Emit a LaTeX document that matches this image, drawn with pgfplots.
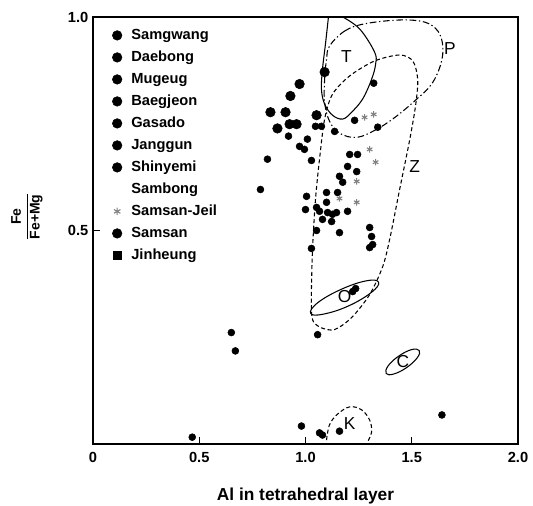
\documentclass[border=0pt]{standalone}
\usepackage{fontspec}
\setmainfont{Liberation Sans}
\usepackage{pgfplots}
\pgfplotsset{compat=1.18}

\pgfplotsset{dot/.style={only marks, mark=*, black, mark size=2.6pt}}
\tikzset{field/.style={black, line width=0.8pt}}

\begin{document}
\begin{tikzpicture}
\begin{axis}[
  scale only axis, width=318.75pt, height=320.25pt,
  xmin=0, xmax=2, ymin=0, ymax=1,
  xtick={0,0.5,1,1.5,2}, xticklabels={0,0.5,1.0,1.5,2.0},
  ytick={0.5,1}, yticklabels={0.5,1.0},
  tick align=inside, xtick pos=left, ytick pos=left,
  major tick length=5pt,
  axis line style={line width=1.1pt},
  every tick/.style={black, line width=1pt},
  tick label style={font=\bfseries\fontsize{11}{13}\selectfont},
  xticklabel style={yshift=-3pt},
  xlabel={Al in tetrahedral layer},
  xlabel style={font=\bfseries\fontsize{13}{15}\selectfont,
    at={(axis description cs:0.5,0)}, yshift=-39pt, anchor=center},
  ylabel={\begin{tabular}{@{}c@{}}Fe\\[1pt]\hline\rule{0pt}{9pt}Fe+Mg\end{tabular}},
  ylabel style={font=\bfseries\fontsize{10.5}{12}\selectfont,
    at={(axis description cs:-0.155,0.532)}, anchor=center},
  legend style={at={(axis description cs:0.045,0.977)}, anchor=north west,
    draw=none, fill=none, font=\bfseries\fontsize{11}{13}\selectfont,
    row sep=4pt, column sep=6pt, inner sep=0pt,
    nodes={inner sep=1pt, text height=8pt, text depth=2.5pt}},
  legend cell align=left,
]

% data: Samgwang
\addplot[dot, mark size=3.6pt, forget plot] coordinates {
 (1.090,0.871) (0.972,0.843) (0.929,0.815) (0.835,0.777) (0.906,0.777)
 (1.052,0.770) (0.868,0.739) (0.925,0.749) (0.958,0.749)};
% Daebong
\addplot[dot, forget plot] coordinates {
 (1.047,0.744) (1.075,0.744) (0.920,0.721) (1.009,0.714) (0.972,0.697)
 (0.995,0.690) (1.028,0.664) (0.821,0.667) (0.788,0.596)};
% Mugeug
\addplot[dot, forget plot] coordinates {
 (1.137,0.732) (1.231,0.758) (1.340,0.742) (1.321,0.845)};
% Baegjeon
\addplot[dot, forget plot] coordinates {
 (1.208,0.678) (1.245,0.678) (1.198,0.650) (1.241,0.638) (1.160,0.627) (1.175,0.613)};
% Gasado
\addplot[dot, forget plot] coordinates {
 (1.099,0.589) (1.151,0.589) (1.005,0.580) (1.000,0.549) (1.052,0.554)
 (1.066,0.545) (1.099,0.566) (1.104,0.542) (1.127,0.538) (1.146,0.542)
 (1.080,0.526) (1.123,0.521) (1.198,0.545)};
% Janggun
\addplot[dot, forget plot] coordinates {
 (1.052,0.500) (1.160,0.495) (1.028,0.458)};
% Shinyemi
\addplot[dot, forget plot] coordinates {
 (1.302,0.507) (1.311,0.486) (1.316,0.467) (1.302,0.460)};
% Samsan-Jeil
\addplot[only marks, mark=asterisk, gray, mark size=2.4pt, line width=0.8pt, forget plot] coordinates {
 (1.278,0.765) (1.321,0.772) (1.302,0.690) (1.330,0.660) (1.241,0.615)
 (1.160,0.575) (1.241,0.566)};
% Samsan
\addplot[dot, forget plot] coordinates {
 (1.236,0.364) (1.222,0.357) (1.057,0.256) (0.651,0.261) (0.670,0.218)};
% Jinheung
\addplot[dot, forget plot] coordinates {
 (0.467,0.016) (0.981,0.042) (1.066,0.026) (1.080,0.021) (1.160,0.030) (1.642,0.068)};

% fields
\draw[field] plot[smooth, tension=0.6] coordinates {
 (1.175,1.0) (1.255,0.972) (1.325,0.918) (1.33,0.89) (1.311,0.854) (1.269,0.808)
 (1.217,0.777) (1.175,0.761) (1.127,0.770) (1.090,0.796) (1.075,0.831)
 (1.080,0.878) (1.094,0.937) (1.108,1.0)};
\draw[field, dash pattern=on 5pt off 2pt on 1pt off 2pt] plot[smooth cycle, tension=0.6] coordinates {
 (1.113,0.932) (1.184,0.967) (1.278,0.984) (1.443,0.993) (1.561,0.988)
 (1.623,0.967) (1.646,0.932) (1.637,0.890) (1.594,0.843) (1.524,0.808)
 (1.429,0.768) (1.335,0.737) (1.241,0.718) (1.160,0.728) (1.113,0.756)
 (1.090,0.800) (1.090,0.854) (1.099,0.901)};
\draw[field, dash pattern=on 3pt off 2pt] plot[smooth cycle, tension=0.5] coordinates {
 (1.028,0.362) (1.033,0.455) (1.047,0.573) (1.066,0.667) (1.090,0.761)
 (1.127,0.819) (1.208,0.862) (1.325,0.897) (1.443,0.911) (1.505,0.897)
 (1.528,0.854) (1.519,0.796) (1.491,0.714) (1.443,0.596) (1.396,0.479)
 (1.363,0.415) (1.302,0.350) (1.217,0.296) (1.137,0.268) (1.075,0.272)
 (1.038,0.286) (1.028,0.310)};
\draw[field] plot[smooth cycle, tension=0.7] coordinates {
 (1.344,0.379) (1.310,0.355) (1.201,0.323) (1.083,0.304) (1.024,0.306)
 (1.058,0.331) (1.167,0.362) (1.285,0.382)};
\draw[field] plot[smooth cycle, tension=0.7] coordinates {
 (1.535,0.219) (1.526,0.202) (1.476,0.179) (1.416,0.164) (1.380,0.165)
 (1.389,0.183) (1.439,0.206) (1.499,0.221)};
\draw[field, dash pattern=on 3pt off 2pt] plot[smooth, tension=0.6] coordinates {
 (1.099,0.009) (1.113,0.045) (1.151,0.070) (1.208,0.087) (1.264,0.080)
 (1.302,0.056) (1.311,0.028) (1.292,0.005)};

\node[font=\fontsize{13}{15}\selectfont] at (1.193,0.908) {T};
\node[font=\fontsize{13}{15}\selectfont] at (1.679,0.925) {P};
\node[font=\fontsize{13}{15}\selectfont] at (1.514,0.650) {Z};
\node[font=\fontsize{13}{15}\selectfont] at (1.184,0.345) {O};
\node[font=\fontsize{13}{15}\selectfont] at (1.458,0.192) {C};
\node[font=\fontsize{13}{15}\selectfont] at (1.208,0.047) {K};

% legend
\addlegendimage{only marks, mark=*, black, mark size=3.6pt}
\addlegendentry{Samgwang}
\addlegendimage{only marks, mark=*, black, mark size=3.6pt}
\addlegendentry{Daebong}
\addlegendimage{only marks, mark=*, black, mark size=3.6pt}
\addlegendentry{Mugeug}
\addlegendimage{only marks, mark=*, black, mark size=3.6pt}
\addlegendentry{Baegjeon}
\addlegendimage{only marks, mark=*, black, mark size=3.6pt}
\addlegendentry{Gasado}
\addlegendimage{only marks, mark=*, black, mark size=3.6pt}
\addlegendentry{Janggun}
\addlegendimage{only marks, mark=*, black, mark size=3.6pt}
\addlegendentry{Shinyemi}
\addlegendimage{only marks, mark=*, white, mark size=3.6pt}
\addlegendentry{Sambong}
\addlegendimage{only marks, mark=asterisk, gray, mark size=2.8pt, line width=0.8pt}
\addlegendentry{Samsan-Jeil}
\addlegendimage{only marks, mark=*, black, mark size=3.6pt}
\addlegendentry{Samsan}
\addlegendimage{only marks, mark=square*, black, mark size=3.2pt}
\addlegendentry{Jinheung}
\end{axis}
\pgfresetboundingbox
\useasboundingbox (-69.75pt,-46.5pt) rectangle (330pt,333pt);
\end{tikzpicture}
\end{document}
